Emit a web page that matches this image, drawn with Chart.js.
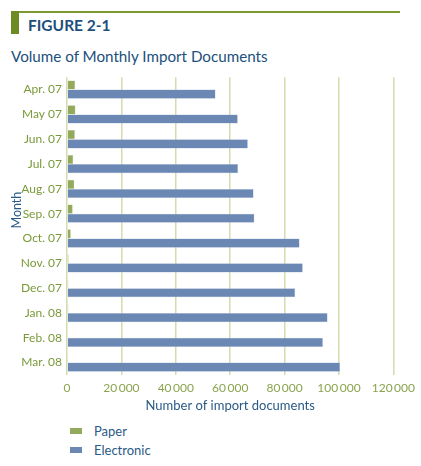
<!DOCTYPE html>
<html>
<head>
<meta charset="utf-8">
<script src="https://cdn.jsdelivr.net/npm/chart.js@4"></script>
<style>
  body { margin: 0; width: 421px; height: 466px; background: #fff; font-family: Lato, "Open Sans", sans-serif; position: relative; overflow: hidden; }
  .topline { position: absolute; left: 19px; top: 11px; width: 381px; height: 2px; background: #7d9a30; }
  .block { position: absolute; left: 11px; top: 11px; width: 8px; height: 23px; background: #6e8a23; }
  .fig { position: absolute; left: 28px; top: 16px; font-size: 15.5px; font-weight: bold; color: #1c4f7c; }
  .title { position: absolute; left: 11px; top: 47px; font-size: 15.2px; color: #1c4f7c; }
  .wrap { position: absolute; left: 0; top: 65px; width: 421px; height: 349px; }
  #legend { position: absolute; left: 70px; top: 421px; font-size: 13px; color: #2a5a86; }
  #legend div { height: 19px; display: flex; align-items: center; }
  #legend span.sw { display: inline-block; width: 12px; height: 6px; margin-right: 12px; }
</style>
</head>
<body>
<div class="topline"></div>
<div class="block"></div>
<div class="fig">FIGURE 2-1</div>
<div class="title">Volume of Monthly Import Documents</div>
<div class="wrap"><canvas id="chart"></canvas></div>
<div id="legend"></div>
<script>
const months = ['Apr. 07', 'May 07', 'Jun. 07', 'Jul. 07', 'Aug. 07', 'Sep. 07',
  'Oct. 07', 'Nov. 07', 'Dec. 07', 'Jan. 08', 'Feb. 08', 'Mar. 08'];
const paper = [3000, 3100, 2900, 2300, 2700, 2100, 1400, 600, 500, 500, 300, 200];
const electronic = [54600, 62800, 66500, 62900, 68600, 68900, 85500, 86700, 83900, 95800, 94100, 100400];
const xTicks = [0, 20000, 40000, 60000, 80000, 100000, 120000];

const green = '#93aa5c';
const blue = '#6b88b5';
const fontFam = 'Lato, "Open Sans", sans-serif';

const chart = new Chart(document.getElementById('chart'), {
  type: 'bar',
  data: {
    labels: months,
    datasets: [
      { label: 'Paper', data: paper, backgroundColor: green, borderColor: '#b9c995', borderWidth: 0.5 },
      { label: 'Electronic', data: electronic, backgroundColor: blue, borderColor: '#a9bbd6', borderWidth: 0.5 }
    ]
  },
  options: {
    indexAxis: 'y',
    responsive: true,
    maintainAspectRatio: false,
    animation: false,
    datasets: { bar: { categoryPercentage: 0.74, barPercentage: 1.0 } },
    layout: { padding: { top: 5, right: 26, left: 0, bottom: 0 } },
    plugins: { legend: { display: false }, tooltip: { enabled: false } },
    scales: {
      x: {
        min: 0, max: 120000,
        afterBuildTicks: s => { s.ticks = xTicks.map(v => ({ value: v })); },
        afterFit: s => { s.height = 39; },
        grid: { color: '#d3dcae', lineWidth: 1.5, drawTicks: false },
        border: { display: false },
        ticks: {
          color: '#8ba34e', padding: 6, maxRotation: 0,
          font: { family: fontFam, size: 12 },
          callback: v => v === 0 ? '0' : String(v).replace(/(\d)(?=(\d{3})+$)/g, '$1\u2009')
        },
        title: { display: true, text: 'Number of import documents', color: '#2a5a86',
          font: { family: fontFam, size: 13 }, padding: { top: 3, bottom: 0 } }
      },
      y: {
        afterFit: s => { s.width = 67; },
        grid: { display: false, drawTicks: false },
        border: { display: false },
        ticks: { color: '#7a9a3a', padding: 5, font: { family: fontFam, size: 12 } },
        // leading spaces push the title a bit above centre, as in the original
        title: { display: true, text: '\u00a0'.repeat(10) + 'Month', color: '#2a5a86',
          font: { family: fontFam, size: 12.5 }, padding: { top: 9, bottom: 0 } }
      }
    }
  }
});

const legend = document.getElementById('legend');
chart.data.datasets.forEach(ds => {
  const row = document.createElement('div');
  row.innerHTML = '<span class="sw" style="background:' + ds.backgroundColor + '"></span>' + ds.label;
  legend.appendChild(row);
});
</script>
</body>
</html>
